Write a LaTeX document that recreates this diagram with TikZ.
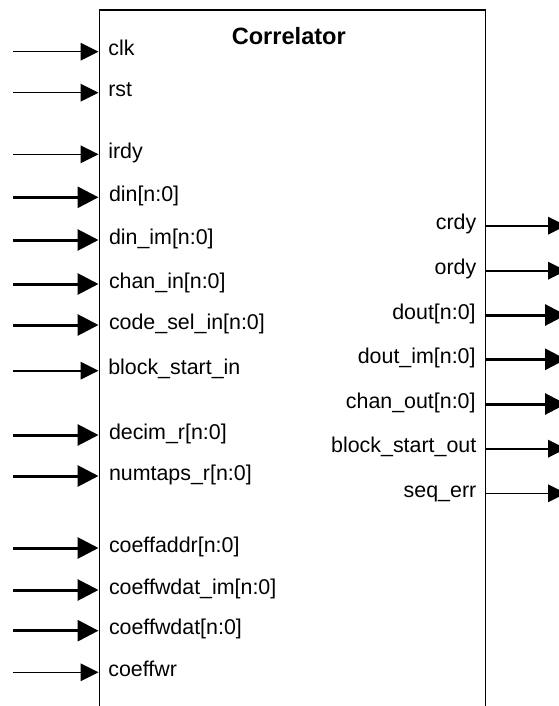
\documentclass[tikz,border=0pt]{standalone}
\usepackage{fontspec}
\setmainfont{Liberation Sans}
\usetikzlibrary{arrows.meta}
\tikzstyle{sig}=[line width=0.8pt,-{Triangle[length=9pt,width=8.8pt]}]
\tikzstyle{bus}=[line width=1.5pt,-{Triangle[length=10.5pt,width=10.5pt]}]
\tikzstyle{lbl}=[inner sep=0pt,font=\fontsize{10.7}{12}\selectfont]
\tikzstyle{inlbl}=[lbl,pos=1,anchor=base west,xshift=4.5pt,yshift=-2pt]
\tikzstyle{outlbl}=[lbl,anchor=base east,xshift=-4.5pt,yshift=-2pt]
\begin{document}
\begin{tikzpicture}[x=0.5pt,y=-0.5pt]
\useasboundingbox (0,0) rectangle (558,706);
\node[draw,line width=0.8pt,inner sep=0pt,minimum width=193pt,minimum height=380pt,anchor=north west] (corr) at (98.5,9.3) {};
\node[inner sep=0pt,anchor=base,font=\fontsize{11.8}{14}\selectfont\bfseries] (title) at (288.8,45) {Correlator};
\coordinate (clk-s) at (13,51.7); \draw[sig] (clk-s) -- (clk-s -| corr.west) node[inlbl] (clk) {clk};
\coordinate (rst-s) at (13,92.7); \draw[sig] (rst-s) -- (rst-s -| corr.west) node[inlbl] (rst) {rst};
\coordinate (irdy-s) at (13,154.3); \draw[sig] (irdy-s) -- (irdy-s -| corr.west) node[inlbl] (irdy) {irdy};
\coordinate (din-s) at (13,197.3); \draw[bus] (din-s) -- (din-s -| corr.west) node[inlbl] (din) {din[n:0]};
\coordinate (dinim-s) at (13,240); \draw[bus] (dinim-s) -- (dinim-s -| corr.west) node[inlbl] (dinim) {din\_im[n:0]};
\coordinate (chanin-s) at (13,284); \draw[bus] (chanin-s) -- (chanin-s -| corr.west) node[inlbl] (chanin) {chan\_in[n:0]};
\coordinate (codesel-s) at (13,325); \draw[bus] (codesel-s) -- (codesel-s -| corr.west) node[inlbl] (codesel) {code\_sel\_in[n:0]};
\coordinate (bsin-s) at (13,370.7); \draw[sig] (bsin-s) -- (bsin-s -| corr.west) node[inlbl] (bsin) {block\_start\_in};
\coordinate (decim-s) at (13,435); \draw[bus] (decim-s) -- (decim-s -| corr.west) node[inlbl] (decim) {decim\_r[n:0]};
\coordinate (numtaps-s) at (13,476); \draw[bus] (numtaps-s) -- (numtaps-s -| corr.west) node[inlbl] (numtaps) {numtaps\_r[n:0]};
\coordinate (caddr-s) at (13,548); \draw[bus] (caddr-s) -- (caddr-s -| corr.west) node[inlbl] (caddr) {coeffaddr[n:0]};
\coordinate (cwdim-s) at (13,590); \draw[bus] (cwdim-s) -- (cwdim-s -| corr.west) node[inlbl] (cwdim) {coeffwdat\_im[n:0]};
\coordinate (cwd-s) at (13,630.7); \draw[bus] (cwd-s) -- (cwd-s -| corr.west) node[inlbl] (cwd) {coeffwdat[n:0]};
\coordinate (cwr-s) at (13,672.3); \draw[sig] (cwr-s) -- (cwr-s -| corr.west) node[inlbl] (cwr) {coeffwr};
\coordinate (crdy-e) at (566,225.7); \draw[sig] (crdy-e -| corr.east) node[outlbl] (crdy) {crdy} -- (crdy-e);
\coordinate (ordy-e) at (566,270.7); \draw[sig] (ordy-e -| corr.east) node[outlbl] (ordy) {ordy} -- (ordy-e);
\coordinate (dout-e) at (566,315); \draw[bus] (dout-e -| corr.east) node[outlbl] (dout) {dout[n:0]} -- (dout-e);
\coordinate (doutim-e) at (566,359.3); \draw[bus] (doutim-e -| corr.east) node[outlbl] (doutim) {dout\_im[n:0]} -- (doutim-e);
\coordinate (chanout-e) at (566,404); \draw[bus] (chanout-e -| corr.east) node[outlbl] (chanout) {chan\_out[n:0]} -- (chanout-e);
\coordinate (bsout-e) at (566,448.7); \draw[sig] (bsout-e -| corr.east) node[outlbl] (bsout) {block\_start\_out} -- (bsout-e);
\coordinate (seqerr-e) at (566,493.3); \draw[sig] (seqerr-e -| corr.east) node[outlbl] (seqerr) {seq\_err} -- (seqerr-e);
\end{tikzpicture}
\end{document}
